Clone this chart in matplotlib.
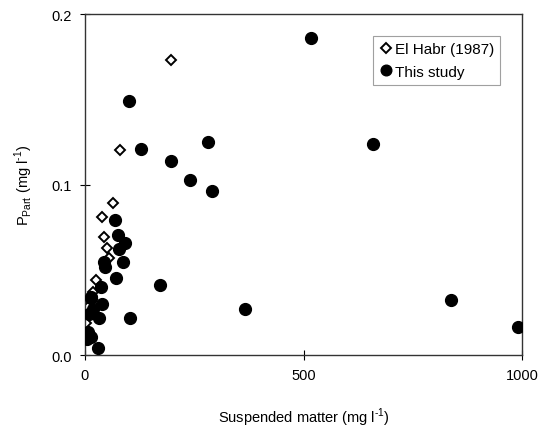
import matplotlib
matplotlib.use("Agg")
import matplotlib.pyplot as plt

# El Habr (1987): suspended matter (mg/l), P_part (mg/l)
elhabr_sm = [198, 80, 64, 40, 43, 51, 56, 25, 18, 6, 3]
elhabr_p = [0.173, 0.120, 0.089, 0.081, 0.069, 0.063, 0.057, 0.044, 0.037, 0.028, 0.019]

# This study
study_sm = [517, 659, 100, 129, 281, 197, 240, 291, 171, 366, 837, 990,
            69, 75, 92, 78, 88, 43, 47, 70, 36, 15, 40, 19, 103, 33, 10,
            7, 13, 4, 30, 14]
study_p = [0.186, 0.1235, 0.149, 0.121, 0.125, 0.114, 0.1026, 0.0965, 0.041,
           0.027, 0.032, 0.0165, 0.079, 0.0705, 0.0655, 0.062, 0.0547, 0.0545,
           0.0515, 0.045, 0.040, 0.0333, 0.030, 0.027, 0.022, 0.022, 0.024,
           0.0133, 0.0104, 0.0094, 0.004, 0.034]

plt.rcParams["font.family"] = ["Liberation Sans", "DejaVu Sans"]
plt.rcParams["mathtext.fontset"] = "custom"
plt.rcParams["mathtext.rm"] = "Liberation Sans"

fig = plt.figure(figsize=(5.41, 4.31), dpi=100)
ax = fig.add_axes([0.157, 0.174, 0.808, 0.791])

ax.plot(elhabr_sm, elhabr_p, linestyle="none", marker="D", markersize=5.3,
        markerfacecolor="white", markeredgecolor="black", markeredgewidth=1.4,
        label="El Habr (1987)", zorder=2)
ax.plot(study_sm, study_p, linestyle="none", marker="o", markersize=8.5,
        color="black", label="This study", zorder=3)

ax.set_xlim(0, 1000)
ax.set_ylim(0, 0.2)
ax.set_xticks([0, 500, 1000])
ax.set_yticks([0.0, 0.1, 0.2])
ax.set_yticklabels(["0.0", "0.1", "0.2"])
ax.tick_params(direction="inout", length=7, width=0.8, labelsize=10.5, pad=6)
for s in ax.spines.values():
    s.set_linewidth(1.0)
    s.set_color("#333333")

ax.set_xlabel("Suspended matter (mg l$^{\\mathregular{\\text{-}1}}$)", fontsize=10.5, labelpad=17)
ax.set_ylabel("P$_{\\mathregular{Part}}$ (mg l$^{\\mathregular{\\text{-}1}}$)", fontsize=10.5, labelpad=12)

leg = ax.legend(loc="upper right", bbox_to_anchor=(0.95, 0.935), fontsize=11,
                frameon=True, fancybox=False, handletextpad=0.1,
                handlelength=0.9, borderpad=0.4, labelspacing=0.55,
                borderaxespad=0, markerscale=0.9)
leg.get_frame().set_edgecolor("#888888")
leg.get_frame().set_linewidth(0.8)

fig.savefig("out.png", dpi=100)
